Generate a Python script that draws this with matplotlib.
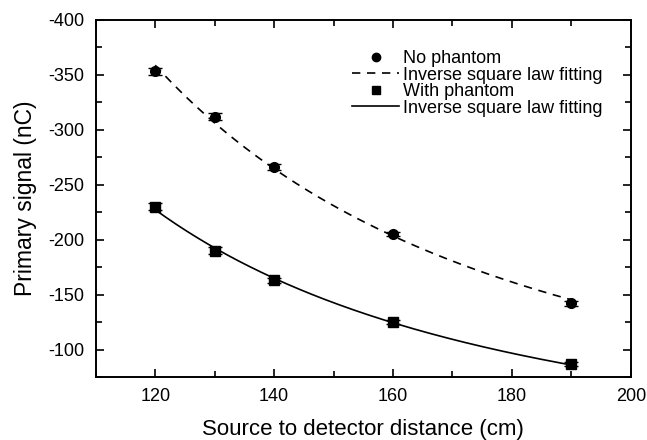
import numpy as np
import matplotlib
matplotlib.use('Agg')
import matplotlib.pyplot as plt
from matplotlib.ticker import MultipleLocator
from matplotlib.lines import Line2D

plt.rcParams['font.family'] = ['Liberation Sans', 'DejaVu Sans']
plt.rcParams['axes.unicode_minus'] = False

# measured data
distance = [120, 130, 140, 160, 190]
no_phantom = [-353, -312, -266, -205, -142]
no_phantom_err = [3, 3, 3, 2, 2]
with_phantom = [-230, -190, -163, -125, -87]
with_phantom_err = [3, 3, 2, 2, 2]

# inverse square law fit: a / x^2 + c
def fit_isl(x, y):
    x = np.asarray(x, float)
    A = np.vstack([1.0 / x**2, np.ones_like(x)]).T
    coef, *_ = np.linalg.lstsq(A, np.asarray(y, float), rcond=None)
    return coef

xs = np.linspace(120, 190, 200)
c1 = fit_isl(distance, no_phantom)
c2 = fit_isl(distance, with_phantom)

fig = plt.figure(figsize=(6.47, 4.4), dpi=100)
ax = fig.add_axes([0.148, 0.143, 0.827, 0.812])

ax.errorbar(distance, no_phantom, yerr=no_phantom_err, fmt='o', color='black',
            ms=7, capsize=5, elinewidth=1, capthick=1)
ax.plot(xs, c1[0] / xs**2 + c1[1], 'k--', lw=1.2, dashes=(5, 4))
ax.errorbar(distance, with_phantom, yerr=with_phantom_err, fmt='s', color='black',
            ms=6.5, capsize=5, elinewidth=1, capthick=1)
ax.plot(xs, c2[0] / xs**2 + c2[1], 'k-', lw=1.2)

ax.set_xlim(110, 200)
ax.set_ylim(-75, -400)
ax.xaxis.set_major_locator(MultipleLocator(20))
ax.xaxis.set_minor_locator(MultipleLocator(10))
ax.yaxis.set_major_locator(MultipleLocator(50))
ax.yaxis.set_minor_locator(MultipleLocator(25))
ax.tick_params(which='both', direction='in', top=True, right=True, labelsize=13, width=1.2)
ax.tick_params(which='major', length=6)
ax.tick_params(which='minor', length=4)
ax.tick_params(axis='x', pad=8)
ax.tick_params(axis='y', pad=8)
for s in ax.spines.values():
    s.set_linewidth(1.4)

ax.set_xlabel('Source to detector distance (cm)', fontsize=16, labelpad=10)
ax.set_ylabel('Primary signal (nC)', fontsize=16.5, labelpad=8)

handles = [
    Line2D([], [], color='black', marker='o', ls='none', ms=6),
    Line2D([], [], color='black', ls='--', lw=1.2, dashes=(5, 4)),
    Line2D([], [], color='black', marker='s', ls='none', ms=5.5),
    Line2D([], [], color='black', ls='-', lw=1.2),
]
labels = ['No phantom', 'Inverse square law fitting', 'With phantom',
          'Inverse square law fitting']
ax.legend(handles, labels, loc='upper right', bbox_to_anchor=(0.977, 0.96), frameon=False,
          fontsize=13, handlelength=2.6, handletextpad=0.2, labelspacing=-0.03)

fig.savefig('out.png', dpi=100)
